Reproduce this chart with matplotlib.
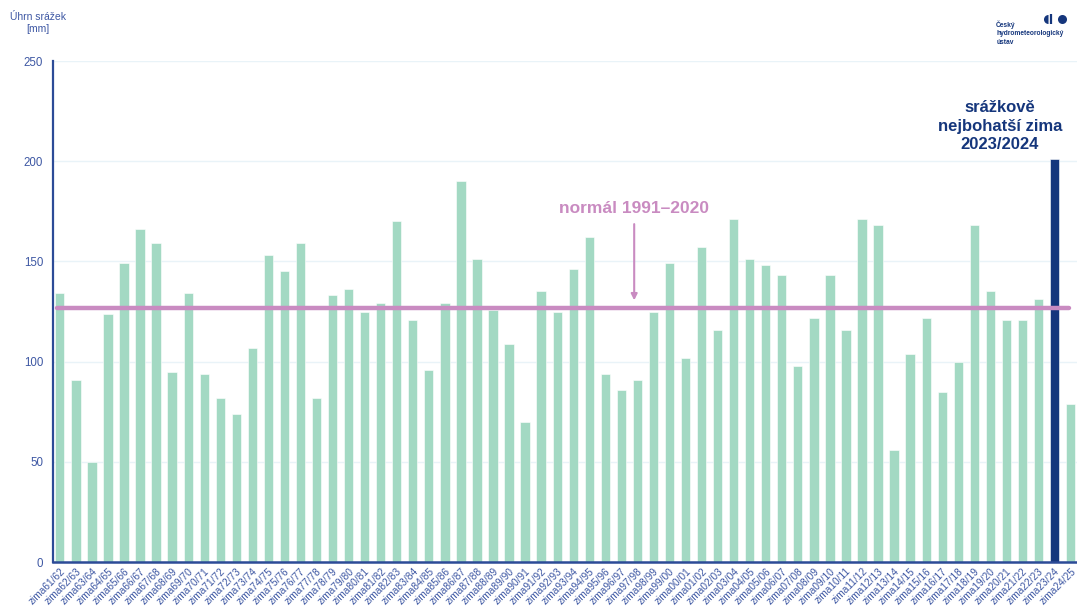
import numpy as np
import matplotlib.pyplot as plt
from matplotlib.markers import MarkerStyle

plt.rcParams['font.family'] = ['Liberation Sans', 'DejaVu Sans']

winters = ['61/62', '62/63', '63/64', '64/65', '65/66', '66/67', '67/68', '68/69', '69/70',
           '70/71', '71/72', '72/73', '73/74', '74/75', '75/76', '76/77', '77/78', '78/79',
           '79/80', '80/81', '81/82', '82/83', '83/84', '84/85', '85/86', '86/87', '87/88',
           '88/89', '89/90', '90/91', '91/92', '92/93', '93/94', '94/95', '95/96', '96/97',
           '97/98', '98/99', '99/00', '00/01', '01/02', '02/03', '03/04', '04/05', '05/06',
           '06/07', '07/08', '08/09', '09/10', '10/11', '11/12', '12/13', '13/14', '14/15',
           '15/16', '16/17', '17/18', '18/19', '19/20', '20/21', '21/22', '22/23', '23/24',
           '24/25']
labels = ['zima' + w for w in winters]

srazky = [134, 91, 50, 124, 149, 166, 159, 95, 134,
          94, 82, 74, 107, 153, 145, 159, 82, 133,
          136, 125, 129, 170, 121, 96, 129, 190, 151,
          126, 109, 70, 135, 125, 146, 162, 94, 86,
          91, 125, 149, 102, 157, 116, 171, 151, 148,
          143, 98, 122, 143, 116, 171, 168, 56, 104,
          122, 85, 100, 168, 135, 121, 121, 131, 201,
          79]
normal = 126.7
highlight = '23/24'

mint = '#a3d9c3'
navy = '#15367c'
blue_txt = '#3d57a3'
pink = '#c98bc1'

fig = plt.figure(figsize=(10.77, 6.07), dpi=100)
ax = fig.add_axes([0.049, 0.0741, 0.951, 0.8254])

x = np.arange(len(srazky))
colors = [navy if w == highlight else mint for w in winters]
ax.bar(x, srazky, width=0.58, color=colors, edgecolor='white', linewidth=0.4, zorder=2)

# normal 1991-2020
ax.plot([-0.2, len(srazky) - 1.1], [normal, normal], color=pink, lw=3.2,
        solid_capstyle='round', zorder=3)
ax.annotate('', xy=(35.8, normal + 2.5), xytext=(35.8, 170),
            arrowprops=dict(arrowstyle='-|>', color=pink, lw=1.5, mutation_scale=9))
ax.text(35.8, 176.5, 'normál 1991–2020', color=pink, fontsize=12.5, fontweight='bold',
        ha='center', va='center')

ax.text(58.6, 217.5, 'srážkově\nnejbohatší zima\n2023/2024', color=navy, fontsize=12,
        fontweight='bold', ha='center', va='center', linespacing=1.3)

ax.set_xlim(-0.44, len(srazky) - 0.6)
ax.set_ylim(0, 250)
ax.set_yticks([0, 50, 100, 150, 200, 250])
ax.yaxis.grid(True, color='#e9f3f8', lw=1, zorder=0)
ax.set_axisbelow(True)

ax.set_xticks(x)
ax.set_xticklabels(labels, rotation=45, ha='right', rotation_mode='anchor',
                   fontsize=7.3, color=blue_txt)
ax.tick_params(axis='x', length=0, pad=3)
ax.tick_params(axis='y', length=0, pad=7, labelsize=8.3, labelcolor=blue_txt)

for s in ['top', 'right']:
    ax.spines[s].set_visible(False)
ax.spines['left'].set_color('#2c4b97')
ax.spines['left'].set_linewidth(1.6)
ax.spines['bottom'].set_color('#2c4b97')
ax.spines['bottom'].set_linewidth(1.8)

fig.text(0.035, 0.962, 'Úhrn srážek\n[mm]', ha='center', va='center', fontsize=7.5,
         color=blue_txt, linespacing=1.35)

# logo CHMU
fig.text(0.925, 0.946, 'Český\nhydrometeorologický\nústav', ha='left', va='center',
         fontsize=4.8, fontweight='bold', color=navy, linespacing=1.3)
fig.add_artist(plt.Line2D([0.9735], [0.969], marker=MarkerStyle('o', fillstyle='left'),
                          markersize=6.5, color=navy, markeredgewidth=0,
                          transform=fig.transFigure))
fig.add_artist(plt.Line2D([0.9758], [0.969], marker='|', markersize=6.5, color=navy,
                          markeredgewidth=1.6, transform=fig.transFigure))
fig.add_artist(plt.Line2D([0.986], [0.969], marker='o', markersize=6.5, color=navy,
                          markeredgewidth=0, transform=fig.transFigure))

fig.savefig('out.png', dpi=100)
